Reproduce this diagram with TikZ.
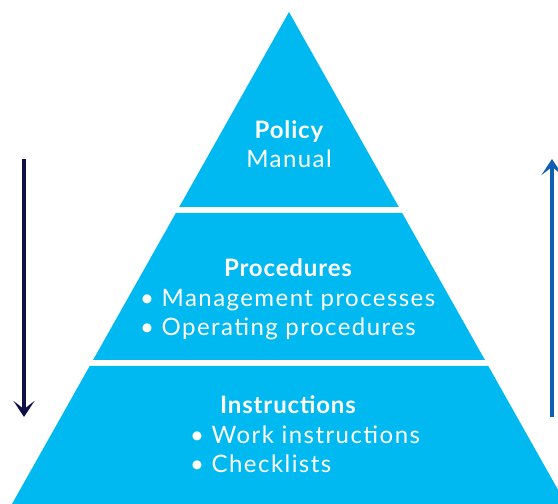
\documentclass[tikz,border=0pt]{standalone}
\usepackage{fontspec}
\setmainfont{Lato}
\newfontfamily\headfont[LetterSpace=3.5]{Lato}
\newfontfamily\entryfont[LetterSpace=6]{Lato}
\usepackage{tikz}
\definecolor{layer-fill}{HTML}{00B9F1}
\definecolor{arrow-down}{HTML}{0D1146}
\definecolor{arrow-up}{HTML}{0E5EB2}
\usetikzlibrary{arrows.meta, calc}
\tikzset{
  layer/.style={
    fill=layer-fill, draw=none
  },
  heading/.style={
    text=white, inner sep=0pt, anchor=base,
    font=\fontsize{24}{29}\headfont\bfseries
  },
  entry/.style={
    text=white, inner sep=0pt, anchor=base west,
    font=\fontsize{24}{29}\entryfont
  },
  flow/.style={
    draw, line width=4.5pt,
    -{Stealth[length=16pt, width=21pt, inset=8pt]}
  }
}

\begin{document}
\begin{tikzpicture}[x=1pt, y=-1pt]
        \useasboundingbox (0,0) rectangle (558,504);
        \clip (0,0) rectangle (558,504);

        \coordinate (apex) at (289,12);
        \coordinate (bl) at (12,504);
        \coordinate (br) at (566,504);

        % three layers of the pyramid
        \fill[layer] (apex) -- ($(apex)!0.3963!(bl)$) -- ($(apex)!0.3963!(br)$) -- cycle;
        \fill[layer] ($(apex)!0.4085!(bl)$) -- ($(apex)!0.7073!(bl)$)
                  -- ($(apex)!0.7073!(br)$) -- ($(apex)!0.4085!(br)$) -- cycle;
        \fill[layer] ($(apex)!0.7195!(bl)$) -- (bl) -- (br) -- ($(apex)!0.7195!(br)$) -- cycle;

        \node[heading] (policy) at (289,138) {Policy};
        \node[heading, font=\fontsize{24}{29}\entryfont] (manual) at (289,167) {Manual};

        \node[heading] (proc) at (288,276) {Procedures};
        \node[entry] (mgmt) at (140,306) {• Management processes};
        \node[entry] (oper) at (140,335) {• Operating procedures};

        \node[heading] (instr) at (288,413) {Instructions};
        \node[entry] (work) at (190,443) {• Work instructions};
        \node[entry] (check) at (190,472) {• Checklists};

        % direction arrows
        \coordinate (down-top) at (24,159);
        \coordinate (down-end) at (24,417);
        \coordinate (up-bottom) at (552,417);
        \coordinate (up-end) at (552,159);
        \draw[flow, color=arrow-down] (down-top) -- (down-end);
        \draw[flow, color=arrow-up] (up-bottom) -- (up-end);
      \end{tikzpicture}
\end{document}
